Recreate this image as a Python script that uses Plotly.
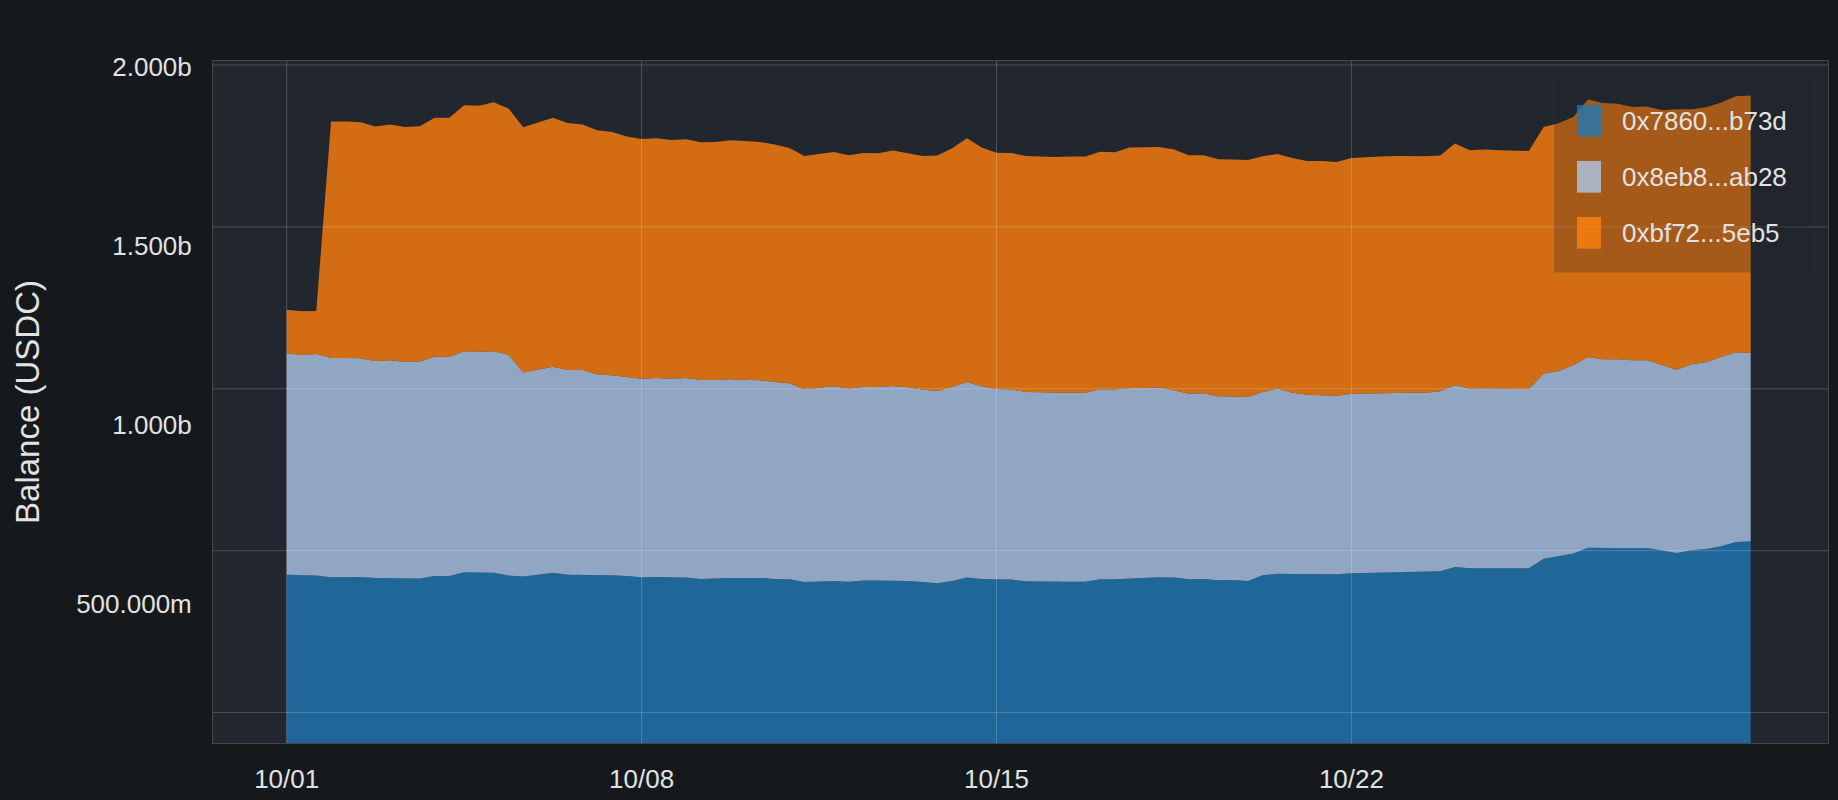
import pandas as pd
import plotly.graph_objects as go

# ---------------- data (balances in millions of USDC, one sample every 7 hours) ----------------
start_time = "2024-10-01 00:00"
sample_freq = "7h"

series_names = ["0x7860...b73d", "0x8eb8...ab28", "0xbf72...5eb5"]

bal_7860 = [581.7, 580.8, 579.0, 574.3, 575.2, 575.2, 572.4, 572.4, 571.5, 570.6,
            578.0, 578.0, 588.3, 587.3, 587.3, 579.0, 576.2, 581.7, 587.3, 581.7,
            581.7, 580.8, 579.9, 578.0, 574.3, 575.2, 574.3, 573.4, 569.7, 571.5,
            572.4, 572.4, 572.4, 569.7, 568.7, 561.3, 563.1, 564.1, 562.2, 565.0,
            565.0, 565.0, 564.1, 561.3, 557.5, 564.1, 573.4, 569.7, 568.7, 567.8,
            563.1, 562.2, 562.2, 562.2, 562.2, 568.7, 568.7, 570.6, 571.5, 574.3,
            573.4, 568.7, 569.7, 565.9, 566.9, 564.1, 579.9, 584.5, 583.6, 583.6,
            583.6, 582.7, 585.5, 586.4, 587.3, 589.2, 590.1, 591.1, 591.1, 603.2,
            599.4, 599.4, 599.4, 598.5, 599.4, 626.4, 632.9, 640.4, 657.1, 656.2,
            656.2, 655.3, 656.2, 649.7, 642.2, 649.7, 653.4, 660.8, 672.9, 674.8]

bal_8eb8 = [617.9, 614.2, 618.8, 612.3, 611.4, 610.5, 605.8, 607.7, 603.9, 605.8,
            612.3, 612.3, 616.9, 616.0, 617.9, 616.9, 569.5, 571.4, 575.1, 571.4,
            571.4, 559.3, 558.3, 555.5, 554.6, 555.6, 554.6, 557.4, 555.5, 553.7,
            554.6, 553.7, 551.8, 549.9, 547.2, 537.8, 539.7, 543.4, 538.8, 540.6,
            540.6, 543.4, 540.6, 536.9, 537.0, 541.5, 546.2, 537.8, 531.3, 530.4,
            528.6, 528.5, 526.7, 527.6, 527.6, 530.4, 529.5, 532.2, 531.3, 529.5,
            522.9, 518.3, 518.3, 513.7, 511.8, 513.6, 511.8, 516.5, 506.2, 500.6,
            498.8, 498.7, 501.5, 501.6, 502.5, 501.5, 499.7, 498.7, 502.4, 507.1,
            501.6, 502.5, 500.6, 501.5, 500.6, 516.5, 517.4, 525.7, 532.3, 526.7,
            526.7, 524.8, 523.9, 516.4, 511.8, 519.2, 522.0, 528.6, 529.5, 525.7]

bal_bf72 = [121.9, 121.9, 120.0, 659.8, 659.8, 658.8, 654.2, 657.9, 656.1, 656.9,
            667.2, 667.2, 686.8, 687.7, 695.1, 686.8, 684.9, 691.4, 695.1, 689.6,
            684.9, 682.1, 679.3, 671.0, 669.1, 669.0, 666.3, 666.3, 663.5, 664.4,
            667.3, 666.3, 665.4, 662.6, 657.0, 651.4, 653.3, 654.2, 651.4, 653.3,
            652.4, 657.0, 653.3, 652.3, 657.0, 666.3, 680.2, 666.3, 659.8, 660.7,
            658.8, 658.0, 658.8, 658.9, 658.9, 663.5, 662.6, 671.0, 671.9, 671.8,
            671.9, 665.4, 664.4, 661.6, 661.6, 661.7, 657.9, 655.1, 655.1, 652.4,
            654.2, 652.4, 657.9, 657.9, 658.9, 659.8, 659.8, 659.8, 658.0, 674.7,
            665.4, 666.3, 666.4, 665.4, 664.5, 688.6, 691.4, 693.3, 718.4, 715.6,
            713.7, 707.2, 708.2, 711.9, 726.8, 711.9, 711.0, 710.0, 714.7, 718.5]

x_tick_dates = ["2024-10-01", "2024-10-08", "2024-10-15", "2024-10-22"]
x_tick_labels = ["10/01", "10/08", "10/15", "10/22"]
y_tick_values = [500e6, 1000e6, 1500e6, 2000e6]
y_tick_labels = ["500.000m", "1.000b", "1.500b", "2.000b"]

# ---------------- styling ----------------
W, H = 1838, 800
M_L, M_R, M_T, M_B = 213, 10, 61, 57
PAPER_BG = "#16191c"
PLOT_BG = "#22262e"
FRAME = "rgba(255,255,255,0.2)"
GRID = "rgba(255,255,255,0.2)"
TEXT = "#e2e2e2"
FONT = "Liberation Sans, Arial, Helvetica, sans-serif"
colors = ["rgba(31,119,180,0.8)", "rgba(174,199,232,0.8)", "rgba(255,127,14,0.8)"]

times = pd.date_range(start_time, periods=len(bal_7860), freq=sample_freq)
series_values = [bal_7860, bal_8eb8, bal_bf72]

fig = go.Figure()
for name, vals, col in zip(series_names, series_values, colors):
    fig.add_trace(go.Scatter(
        x=times, y=[v * 1e6 for v in vals], name=name,
        stackgroup="balances", mode="lines",
        line=dict(width=0, color=col), fillcolor=col,
        showlegend=False,
    ))

fig.update_layout(
    width=W, height=H, autosize=False,
    margin=dict(l=M_L, r=M_R, t=M_T, b=M_B, autoexpand=False),
    paper_bgcolor=PAPER_BG, plot_bgcolor=PLOT_BG,
    font=dict(family=FONT, size=26, color=TEXT),
    showlegend=False,
    xaxis=dict(
        type="date", range=["2024-09-29 13:07", "2024-10-31 09:36"],
        tickvals=x_tick_dates, ticktext=x_tick_labels,
        showgrid=False, automargin=False,
        showline=True, mirror=True, linecolor=FRAME, linewidth=1,
        zeroline=False, ticks="", ticklabelstandoff=13,
        tickfont=dict(size=26, color=TEXT),
    ),
    yaxis=dict(
        range=[111.7e6, 2015.6e6], automargin=False,
        tickvals=y_tick_values, ticktext=y_tick_labels,
        showgrid=False, zeroline=False,
        showline=True, mirror=True, linecolor=FRAME, linewidth=1,
        ticks="", ticklabelstandoff=15,
        tickfont=dict(size=26, color=TEXT),
        title=dict(text="Balance (USDC)", font=dict(size=33, color=TEXT), standoff=26),
    ),
)

# ---------------- pixel helpers for layout decorations ----------------
plot_w = W - M_L - M_R
plot_h = H - M_T - M_B

def px_x(px):
    return (px - M_L) / plot_w

def px_y(py):
    return (H - M_B - py) / plot_h

shapes = []

# grid lines drawn over the areas (as in the reference)
for d in x_tick_dates:
    shapes.append(dict(type="line", xref="x", yref="paper", x0=d, x1=d, y0=0, y1=1,
                       line=dict(color=GRID, width=1), layer="above"))
grid_top_px, grid_step_px, grid_count = 65, 161.9, 5
for k in range(grid_count):
    gy = px_y(grid_top_px + k * grid_step_px)
    shapes.append(dict(type="line", xref="paper", yref="paper", x0=0, x1=1, y0=gy, y1=gy,
                       line=dict(color=GRID, width=1), layer="above"))

# custom legend (box, swatches, labels)
leg_box = dict(x0=1554, x1=1810, y0=81, y1=272.5)
sw_x0, sw_w, sw_h = 1577, 24, 31.7
first_center, row_step = 120.8, 56
text_x = 1620

shapes.append(dict(type="rect", xref="paper", yref="paper",
                   x0=px_x(leg_box["x0"]), x1=px_x(leg_box["x1"]),
                   y0=px_y(leg_box["y1"]), y1=px_y(leg_box["y0"]),
                   fillcolor="rgba(33,37,45,0.25)", line=dict(width=0), layer="above"))
annotations = []
for k, (name, col) in enumerate(zip(series_names, colors)):
    cy = first_center + k * row_step
    shapes.append(dict(type="rect", xref="paper", yref="paper",
                       x0=px_x(sw_x0), x1=px_x(sw_x0 + sw_w),
                       y0=px_y(cy + sw_h / 2), y1=px_y(cy - sw_h / 2),
                       fillcolor=col, line=dict(width=0), layer="above"))
    annotations.append(dict(xref="paper", yref="paper", x=px_x(text_x), y=px_y(cy),
                            xanchor="left", yanchor="middle", showarrow=False,
                            text=name, font=dict(size=26, color=TEXT, family=FONT)))

fig.update_layout(shapes=shapes, annotations=annotations)
fig.write_html("out.html")
